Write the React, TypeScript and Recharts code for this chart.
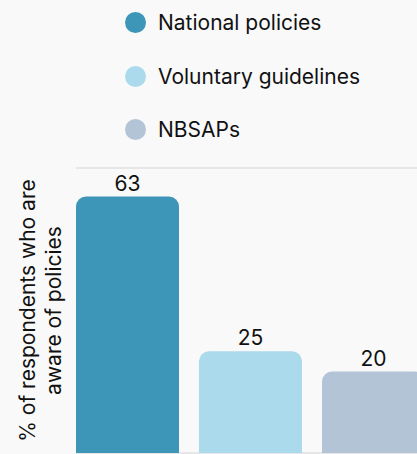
import React from "react";
import { BarChart, Bar, YAxis, XAxis, CartesianGrid, Legend, LabelList } from "recharts";

const categories = ["Awareness"];
const seriesNames = ["National policies", "Voluntary guidelines", "NBSAPs"];
const seriesValues = [63, 25, 20];
const seriesColors = ["#3d95b7", "#abdaec", "#b3c4d6"];
const yTicks = [0, 10, 20, 30, 40, 50, 60, 70];
const yLabelLines = ["% of respondents who are", "aware of policies"];

const data = categories.map((c) => {
  const row: Record<string, string | number> = { category: c };
  seriesNames.forEach((n, i) => {
    row[n] = seriesValues[i];
  });
  return row;
});

const FONT = "Inter, 'Noto Sans', sans-serif";

const renderLegend = (props: any) => {
  const payload = props.payload || [];
  const ordered = seriesNames
    .map((n) => payload.find((p: any) => p.value === n))
    .filter(Boolean);
  return (
    <div style={{ position: "relative", width: 417, height: 150 }}>
      {ordered.map((p: any, i: number) => (
        <div
          key={i}
          style={{
            position: "absolute",
            left: 125,
            top: 22.5 + i * 53.5 - 15,
            height: 30,
            display: "flex",
            alignItems: "center",
          }}
        >
          <span
            style={{
              display: "inline-block",
              width: 21,
              height: 21,
              borderRadius: "50%",
              background: p.color,
            }}
          />
          <span
            style={{
              marginLeft: 12,
              fontSize: 21,
              color: "#111",
              fontFamily: FONT,
              whiteSpace: "nowrap",
            }}
          >
            {p.value}
          </span>
        </div>
      ))}
    </div>
  );
};

const renderYLabel = (props: any) => {
  const vb = props.viewBox || {};
  const cy = (vb.y ?? 0) + (vb.height ?? 0) / 2;
  const xs = [27, 53];
  return (
    <g>
      {yLabelLines.map((line, i) => (
        <text
          key={i}
          x={xs[i]}
          y={cy}
          transform={`rotate(-90 ${xs[i]} ${cy})`}
          textAnchor="middle"
          dominantBaseline="central"
          fontSize={21}
          fontFamily={FONT}
          fill="#111"
        >
          {line}
        </text>
      ))}
    </g>
  );
};

export default function App() {
  return (
    <div
      style={{
        position: "fixed",
        left: 0,
        top: 0,
        width: 417,
        height: 454,
        overflow: "hidden",
        background: "#f9f9fa",
        fontFamily: FONT,
      }}
    >
      <BarChart
        width={424}
        height={454}
        data={data}
        margin={{ top: 168, right: 0, bottom: 1, left: 0 }}
        barCategoryGap={0}
        barGap={20}
      >
        <CartesianGrid vertical={false} stroke="#d4d4d6" strokeWidth={1} />
        <XAxis dataKey="category" hide />
        <YAxis
          width={76}
          domain={[0, 70]}
          ticks={yTicks}
          tick={false}
          axisLine={false}
          tickLine={false}
          label={{ content: renderYLabel }}
        />
        <Legend
          layout="vertical"
          align="center"
          verticalAlign="middle"
          wrapperStyle={{ top: 0, left: 0, width: 417 }}
          content={renderLegend}
        />
        {seriesNames.map((n, i) => (
          <Bar
            key={n}
            dataKey={n}
            name={n}
            fill={seriesColors[i]}
            radius={[10, 10, 0, 0]}
            isAnimationActive={false}
          >
            <LabelList
              dataKey={n}
              position="top"
              offset={6}
              fill="#111"
              fontSize={21}
              fontFamily={FONT}
            />
          </Bar>
        ))}
      </BarChart>
    </div>
  );
}
